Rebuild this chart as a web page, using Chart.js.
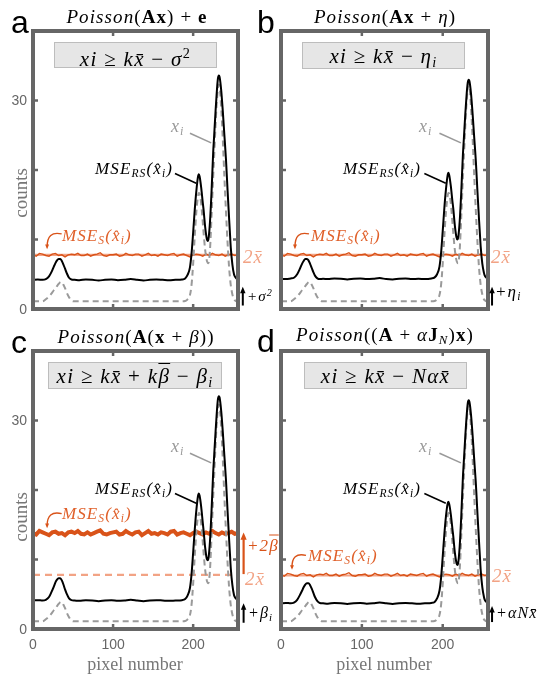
<!DOCTYPE html>
<html>
<head>
<meta charset="utf-8">
<script src="https://cdn.jsdelivr.net/npm/chart.js@4.4.1/dist/chart.umd.min.js"></script>
<style>
  body { margin: 0; background: #fff; }
  #fig { position: relative; width: 539px; height: 678px; overflow: hidden; background: #fff; }
  #fig canvas { position: absolute; left: 0; top: 0; }
  .tx { position: absolute; white-space: nowrap; line-height: 1; font-family: "Liberation Serif", serif; }
  .ltr { font-family: "Liberation Sans", Arial, sans-serif; font-size: 32px; color: #000; }
  .ttl { font-size: 19px; color: #000; letter-spacing: 1.1px; }
  .box { background: #e6e6e6; border: 1.5px solid #bdbdbd; box-sizing: border-box;
         text-align: center; font-size: 21px; letter-spacing: 1.3px; }
  .box span.in { position: relative; top: 3px; }
  .ann { font-size: 17px; font-style: italic; letter-spacing: 1.1px; }
  .axt { font-size: 18px; color: #777; }
  .ov { text-decoration: overline; text-decoration-thickness: 1px; }
  sub { font-size: 68%; vertical-align: -0.3em; }
  sup { font-size: 68%; vertical-align: 0.55em; }
</style>
</head>
<body>
<div id="fig">
  <canvas id="ca" width="539" height="678"></canvas>
  <canvas id="cb" width="539" height="678"></canvas>
  <canvas id="cc" width="539" height="678"></canvas>
  <canvas id="cd" width="539" height="678"></canvas>
</div>
<script>
const pixelPos = [0, 6, 12, 16, 20, 23, 26, 28, 30, 32,
  34, 36, 38, 40, 42, 45, 48, 52, 58, 66,
  74, 82, 90, 98, 106, 114, 122, 130, 138, 146,
  154, 162, 170, 178, 186, 190, 193, 196, 198, 200,
  202, 204, 206, 207, 208, 210, 212, 213, 215, 217,
  218, 219, 221, 223, 225, 226, 228, 229, 230, 231,
  232, 233, 235, 237, 239, 241, 243, 245, 246, 247,
  249, 251, 252, 254, 256];

// true signal x_i (grey dashed), same in all panels
const trueSignal = [1.1, 1.1, 1.1, 1.4, 1.8, 2.2, 2.7, 3.0, 3.3, 3.6,
  3.85, 3.9, 3.5, 3.0, 2.4, 1.7, 1.2, 1.1, 1.1, 1.1,
  1.1, 1.1, 1.1, 1.1, 1.1, 1.1, 1.1, 1.1, 1.1, 1.1,
  1.1, 1.1, 1.1, 1.1, 1.1, 1.15, 1.4, 2.0, 3.5, 6.5,
  10.5, 14.0, 16.2, 16.7, 16.6, 15.2, 12.5, 11.0, 8.5, 7.0,
  6.7, 6.6, 8.5, 13.5, 19.0, 21.5, 26.5, 28.8, 30.5, 31.8,
  32.3, 32.0, 29.0, 24.5, 19.0, 14.0, 9.5, 5.8, 4.5, 3.4,
  2.1, 1.4, 1.25, 1.1, 1.1];

// MSE_RS (black) for panels a-d
const mseRsA = [4.2, 4.25, 4.2, 4.3, 4.7, 5.3, 6.1, 6.6, 7.0, 7.2,
  7.2, 6.9, 6.4, 5.8, 5.2, 4.5, 4.25, 4.2, 4.15, 4.25,
  4.2, 4.1, 4.2, 4.25, 4.15, 4.2, 4.3, 4.2, 4.1, 4.2,
  4.25, 4.2, 4.15, 4.2, 4.25, 4.4, 4.9, 6.0, 8.0, 11.0,
  14.3, 17.0, 19.0, 19.4, 19.1, 17.5, 15.3, 14.3, 11.8, 10.1,
  9.8, 10.0, 12.5, 17.0, 22.5, 24.5, 28.5, 30.3, 32.0, 33.2,
  33.6, 33.4, 31.5, 28.5, 25.0, 21.5, 17.0, 12.8, 10.8, 8.8,
  6.4, 5.0, 4.7, 4.4, 4.3];

const mseRsB = [4.35, 4.3, 4.4, 4.5, 5.0, 5.7, 6.5, 6.9, 7.2, 7.2,
  7.0, 6.5, 5.9, 5.3, 4.8, 4.4, 4.3, 4.35, 4.3, 4.4,
  4.35, 4.25, 4.35, 4.4, 4.3, 4.35, 4.45, 4.3, 4.25, 4.35,
  4.4, 4.3, 4.35, 4.3, 4.4, 4.55, 5.0, 6.1, 8.1, 11.2,
  14.5, 17.2, 19.2, 19.6, 19.3, 17.7, 15.5, 14.5, 12.0, 10.3,
  10.0, 10.2, 12.6, 17.0, 22.3, 24.2, 28.2, 29.9, 31.5, 32.6,
  33.0, 32.8, 31.0, 28.0, 24.6, 21.2, 16.8, 12.7, 10.8, 8.9,
  6.5, 5.2, 4.8, 4.5, 4.4];

const mseRsC = [4.1, 4.15, 4.1, 4.2, 4.6, 5.3, 6.1, 6.7, 7.1, 7.3,
  7.3, 7.0, 6.4, 5.7, 5.1, 4.4, 4.15, 4.1, 4.05, 4.15,
  4.1, 4.0, 4.1, 4.15, 4.05, 4.1, 4.2, 4.1, 4.0, 4.1,
  4.15, 4.1, 4.05, 4.1, 4.15, 4.3, 4.8, 5.9, 7.9, 11.0,
  14.3, 17.1, 19.1, 19.5, 19.2, 17.6, 15.3, 14.2, 11.7, 10.1,
  9.9, 10.1, 12.6, 17.1, 22.5, 24.5, 28.4, 30.2, 31.9, 33.1,
  33.5, 33.3, 31.4, 28.4, 24.9, 21.4, 16.9, 12.7, 10.7, 8.7,
  6.3, 4.9, 4.6, 4.3, 4.2];

const mseRsD = [3.7, 3.75, 3.7, 3.8, 4.2, 4.8, 5.5, 6.0, 6.4, 6.6,
  6.6, 6.3, 5.8, 5.2, 4.6, 4.0, 3.75, 3.7, 3.65, 3.75,
  3.7, 3.6, 3.7, 3.75, 3.65, 3.7, 3.8, 3.7, 3.6, 3.7,
  3.75, 3.7, 3.65, 3.7, 3.75, 3.9, 4.4, 5.5, 7.4, 10.4,
  13.6, 16.2, 18.0, 18.3, 18.0, 16.5, 14.4, 13.4, 11.0, 9.5,
  9.2, 9.4, 11.9, 16.4, 21.9, 23.9, 27.9, 29.7, 31.3, 32.5,
  32.9, 32.7, 30.8, 27.8, 24.3, 20.9, 16.5, 12.4, 10.4, 8.4,
  6.0, 4.6, 4.2, 3.9, 3.8];

// pixel numbers for the noisy MSE_S traces
const noisePos = [0, 4, 8, 12, 16, 20, 24, 28, 32, 36,
  40, 44, 48, 52, 56, 60, 64, 68, 72, 76,
  80, 84, 88, 92, 96, 100, 104, 108, 112, 116,
  120, 124, 128, 132, 136, 140, 144, 148, 152, 156,
  160, 164, 168, 172, 176, 180, 184, 188, 192, 196,
  200, 204, 208, 212, 216, 220, 224, 228, 232, 236,
  240, 244, 248, 252, 256];

// MSE_S (orange), panels a, b, d
const mseSThin = [7.8, 7.6, 8.0, 7.9, 7.7, 7.6, 7.9, 8.0, 7.7, 7.8,
  7.5, 7.8, 7.9, 7.8, 8.0, 7.7, 7.7, 7.9, 7.6, 7.8,
  7.9, 8.1, 7.7, 7.6, 7.8, 7.8, 7.9, 7.6, 7.7, 8.0,
  7.8, 7.7, 7.9, 7.9, 7.6, 7.8, 8.0, 7.7, 7.8, 7.6,
  7.9, 7.8, 7.7, 7.9, 8.0, 7.6, 7.8, 7.9, 7.7, 7.5,
  7.8, 7.9, 7.8, 7.6, 7.9, 7.7, 8.0, 7.8, 7.7, 7.9,
  7.6, 7.8, 7.9, 7.7, 7.8];

// MSE_S (orange), panel c
const mseSThick = [13.8, 13.6, 14.1, 13.9, 13.7, 13.5, 13.9, 14.0, 13.7, 13.8,
  13.5, 13.9, 14.0, 13.8, 14.1, 13.7, 13.6, 13.9, 13.6, 13.8,
  14.0, 14.2, 13.7, 13.6, 13.8, 13.9, 14.0, 13.6, 13.7, 14.1,
  13.8, 13.6, 13.9, 14.0, 13.5, 13.8, 14.1, 13.7, 13.8, 13.6,
  13.9, 13.8, 13.6, 14.0, 14.1, 13.6, 13.8, 13.9, 13.7, 13.5,
  13.8, 14.0, 13.8, 13.6, 13.9, 13.7, 14.1, 13.8, 13.6, 13.9,
  13.7, 13.8, 14.0, 13.7, 13.8];

const twoXbar = [7.8, 7.8, 7.8, 7.7];
const xTickLabels = [0, 100, 200];
const yTickLabels = [0, 30];
const xTickMarks = [100, 200];
const yTickMarks = [10, 20, 30];
const xMax = 256, yMax = 40;

const ORANGE = '#d95319';
const LIGHT_ORANGE = '#f2a385';
const GREY = '#9a9a9a';
const FRAME = '#666666';

const panels = [
  { id: 'ca', area: [33, 31, 238, 309], black: mseRsA, mse: mseSThin, mseWidth: 1.4, xbar: twoXbar[0], xbarDash: [],
    yLabels: true, xLabels: false,
    xiLead: [196, 25.3, 222.5, 23.9], rsLead: [177.3, 19.5, 203.8, 18.1],
    sCurve: [35.8, 10.8, 17.5, 11.3, 17.6, 8.9], offArrow: [262, 0.5, 3.2] },
  { id: 'cb', area: [281, 31, 488, 309], black: mseRsB, mse: mseSThin, mseWidth: 1.4, xbar: twoXbar[1], xbarDash: [],
    yLabels: false, xLabels: false,
    xiLead: [196, 25.3, 222.5, 23.9], rsLead: [177.3, 19.5, 203.8, 18.1],
    sCurve: [34.6, 10.8, 17, 11.3, 17.3, 8.9], offArrow: [261, 0.5, 3.2] },
  { id: 'cc', area: [33, 351, 238, 629], black: mseRsC, mse: mseSThick, mseWidth: 4, xbar: twoXbar[2], xbarDash: [7, 5],
    yLabels: true, xLabels: true,
    xiLead: [196, 25.3, 222.5, 23.9], rsLead: [177.3, 19.5, 203.8, 18.1],
    sCurve: [35.8, 16.6, 17.5, 17.1, 17.6, 14.8], offArrow: [263, 0.9, 3.7],
    betaArrow: [263, 7.9, 13.9] },
  { id: 'cd', area: [281, 351, 488, 629], black: mseRsD, mse: mseSThin, mseWidth: 1.4, xbar: twoXbar[3], xbarDash: [],
    yLabels: false, xLabels: true,
    xiLead: [196, 25.3, 222.5, 23.9], rsLead: [177.3, 19.5, 203.8, 18.1],
    sCurve: [30.9, 10.6, 13, 11.1, 13.6, 8.8], offArrow: [261, 1.0, 3.3] }
];

function seg(ctx, x1, y1, x2, y2) {
  ctx.beginPath();
  ctx.moveTo(x1, y1);
  ctx.lineTo(x2, y2);
  ctx.stroke();
}

function head(ctx, x, y, ang, size) {
  ctx.beginPath();
  ctx.moveTo(x, y);
  ctx.lineTo(x - size * Math.cos(ang - 0.4), y - size * Math.sin(ang - 0.4));
  ctx.lineTo(x - size * Math.cos(ang + 0.4), y - size * Math.sin(ang + 0.4));
  ctx.closePath();
  ctx.fill();
}

function decorPlugin(p) {
  return {
    id: 'decor',
    afterDatasetsDraw(chart) {
      const ctx = chart.ctx;
      const a = chart.chartArea;
      const xs = chart.scales.x, ys = chart.scales.y;
      const X = v => xs.getPixelForValue(v);
      const Y = v => ys.getPixelForValue(v);
      ctx.save();

      // leader lines
      ctx.lineCap = 'butt';
      ctx.strokeStyle = GREY; ctx.lineWidth = 1.6;
      seg(ctx, X(p.xiLead[0]), Y(p.xiLead[1]), X(p.xiLead[2]), Y(p.xiLead[3]));
      ctx.strokeStyle = '#000'; ctx.lineWidth = 1.6;
      seg(ctx, X(p.rsLead[0]), Y(p.rsLead[1]), X(p.rsLead[2]), Y(p.rsLead[3]));

      // curved arrow to MSE_S
      const c = p.sCurve;
      ctx.strokeStyle = ORANGE; ctx.fillStyle = ORANGE; ctx.lineWidth = 1.4;
      ctx.beginPath();
      ctx.moveTo(X(c[0]), Y(c[1]));
      ctx.quadraticCurveTo(X(c[2]), Y(c[3]), X(c[4]), Y(c[5]));
      ctx.stroke();
      head(ctx, X(c[4]), Y(c[5]) + 2, Math.PI / 2, 5);

      // frame and inner ticks
      ctx.strokeStyle = FRAME; ctx.lineWidth = 2.5;
      xTickMarks.forEach(v => {
        seg(ctx, X(v), a.top, X(v), a.top + 5);
        seg(ctx, X(v), a.bottom, X(v), a.bottom - 5);
      });
      yTickMarks.forEach(v => {
        seg(ctx, a.left, Y(v), a.left + 5, Y(v));
        seg(ctx, a.right, Y(v), a.right - 5, Y(v));
      });
      ctx.lineWidth = 4;
      ctx.strokeRect(a.left, a.top, a.right - a.left, a.bottom - a.top);

      // tick labels
      ctx.fillStyle = '#666';
      ctx.font = '14px "Liberation Sans", Arial, sans-serif';
      if (p.yLabels) {
        ctx.textAlign = 'right'; ctx.textBaseline = 'middle';
        yTickLabels.forEach(v => ctx.fillText(String(v), a.left - 6, Y(v) + 1));
      }
      if (p.xLabels) {
        ctx.textAlign = 'center'; ctx.textBaseline = 'middle';
        xTickLabels.forEach(v => ctx.fillText(String(v), X(v), a.bottom + 16));
      }

      // offset arrows in the right margin
      const o = p.offArrow;
      ctx.strokeStyle = '#000'; ctx.fillStyle = '#000'; ctx.lineWidth = 2;
      seg(ctx, X(o[0]), Y(o[1]), X(o[0]), Y(o[2]) + 4);
      head(ctx, X(o[0]), Y(o[2]), -Math.PI / 2, 7);
      if (p.betaArrow) {
        const b = p.betaArrow;
        ctx.strokeStyle = ORANGE; ctx.fillStyle = ORANGE; ctx.lineWidth = 2.2;
        seg(ctx, X(b[0]), Y(b[1]), X(b[0]), Y(b[2]) + 5);
        head(ctx, X(b[0]), Y(b[2]), -Math.PI / 2, 8);
      }
      ctx.restore();
    }
  };
}

panels.forEach(p => {
  const [l, t, r, b] = p.area;
  new Chart(document.getElementById(p.id), {
    type: 'line',
    data: {
      datasets: [
        {
          data: pixelPos.map((px, i) => ({ x: px, y: p.black[i] })),
          borderColor: '#000', borderWidth: 2, pointRadius: 0,
          cubicInterpolationMode: 'monotone', order: 1
        },
        {
          data: pixelPos.map((px, i) => ({ x: px, y: trueSignal[i] })),
          borderColor: GREY, borderWidth: 2, borderDash: [6, 4], pointRadius: 0,
          cubicInterpolationMode: 'monotone', order: 2
        },
        {
          data: noisePos.map((px, i) => ({ x: px, y: p.mse[i] })),
          borderColor: ORANGE, borderWidth: p.mseWidth, pointRadius: 0, order: 3
        },
        {
          data: [{ x: 0, y: p.xbar }, { x: xMax, y: p.xbar }],
          borderColor: LIGHT_ORANGE, borderWidth: 2.2, borderDash: p.xbarDash, pointRadius: 0, order: 4
        }
      ]
    },
    options: {
      responsive: false,
      animation: false,
      devicePixelRatio: 1,
      events: [],
      layout: { padding: { left: l, top: t, right: 539 - r, bottom: 678 - b } },
      scales: {
        x: { type: 'linear', display: false, min: 0, max: xMax },
        y: { type: 'linear', display: false, min: 0, max: yMax }
      },
      plugins: { legend: { display: false }, tooltip: { enabled: false } }
    },
    plugins: [decorPlugin(p)]
  });
});

// text overlays
const fig = document.getElementById('fig');
function put(html, x, y, anchor, cls, style) {
  const d = document.createElement('div');
  d.className = 'tx ' + (cls || '');
  d.innerHTML = html;
  d.style.left = x + 'px';
  d.style.top = y + 'px';
  const tr = { tl: '', lm: 'translate(0,-50%)', rm: 'translate(-100%,-50%)', cm: 'translate(-50%,-50%)' }[anchor];
  d.style.transform = tr;
  if (style) Object.assign(d.style, style);
  fig.appendChild(d);
  return d;
}
function box(html, x, y, w, h) {
  const d = put('<span class="in">' + html + '</span>', x, y, 'tl', 'box');
  d.style.width = w + 'px';
  d.style.height = h + 'px';
}

const xbar = '<i>x&#772;</i>';
const xhat = '<i>x&#770;</i>';
const rsLabel = '<i>MSE</i><sub><i>RS</i></sub>(' + xhat + '<sub><i>i</i></sub>)';
const sLabel = '<i>MSE</i><sub><i>S</i></sub>(' + xhat + '<sub><i>i</i></sub>)';
const xiLabel = '<i>x</i><sub><i>i</i></sub>';
const betaBar = '<i class="ov">β</i>';

// panel letters
put('a', 11, 6, 'tl', 'ltr');
put('b', 257, 6, 'tl', 'ltr');
put('c', 11, 326, 'tl', 'ltr');
put('d', 257, 325, 'tl', 'ltr');

// titles
put('<i>Poisson</i>(<b>Ax</b>) + <b>e</b>', 137, 16, 'cm', 'ttl');
put('<i>Poisson</i>(<b>Ax</b> + <i>η</i>)', 385, 16, 'cm', 'ttl');
put('<i>Poisson</i>(<b>A</b>(<b>x</b> + <i>β</i>))', 136, 336, 'cm', 'ttl');
put('<i>Poisson</i>((<b>A</b> + <i>α</i><b>J</b><sub><i>N</i></sub>)<b>x</b>)', 385, 336, 'cm', 'ttl');

// condition boxes
box('<i>xi</i>&nbsp;≥&nbsp;<i>k</i>' + xbar + '&nbsp;−&nbsp;<i>σ</i><sup>2</sup>', 54, 42, 163, 26);
box('<i>xi</i>&nbsp;≥&nbsp;<i>k</i>' + xbar + '&nbsp;−&nbsp;<i>η</i><sub><i>i</i></sub>', 302, 42, 163, 27);
box('<i>xi</i>&nbsp;≥&nbsp;<i>k</i>' + xbar + '&nbsp;+&nbsp;<i>k</i>' + betaBar + '&nbsp;−&nbsp;<i>β</i><sub><i>i</i></sub>', 48, 362, 174, 27);
box('<i>xi</i>&nbsp;≥&nbsp;<i>k</i>' + xbar + '&nbsp;−&nbsp;<i>Nα</i>' + xbar, 304, 362, 163, 27);

// curve labels
[[0, 0], [248, 0], [0, 320], [248, 320]].forEach(([dx, dy]) => {
  put(xiLabel, 171 + dx, 127 + dy, 'lm', 'ann', { color: GREY, fontSize: '18px' });
  put(rsLabel, 173 + dx, 170 + dy, 'rm', 'ann', { color: '#000' });
});
put(sLabel, 62, 237, 'lm', 'ann', { color: '#e0602a' });
put(sLabel, 311, 237, 'lm', 'ann', { color: '#e0602a' });
put(sLabel, 62, 515, 'lm', 'ann', { color: '#e0602a' });
put(sLabel, 308, 557, 'lm', 'ann', { color: '#e0602a' });

// right-margin labels
const twoX = '2' + xbar;
put(twoX, 243, 256, 'lm', 'ann', { color: LIGHT_ORANGE, fontSize: '19px' });
put(twoX, 491, 256, 'lm', 'ann', { color: LIGHT_ORANGE, fontSize: '19px' });
put(twoX, 245, 578, 'lm', 'ann', { color: LIGHT_ORANGE, fontSize: '19px' });
put(twoX, 492, 575, 'lm', 'ann', { color: LIGHT_ORANGE, fontSize: '19px' });
put('+<i>σ</i><sup>2</sup>', 247, 296, 'lm', 'ann', { fontSize: '15px' });
put('+<i>η</i><sub><i>i</i></sub>', 495, 293, 'lm', 'ann', { fontSize: '17px' });
put('+2' + betaBar, 247, 545, 'lm', 'ann', { color: ORANGE, fontSize: '17px' });
put('+<i>β</i><sub><i>i</i></sub>', 248, 614, 'lm', 'ann', { fontSize: '16px' });
put('+<i>αN</i>' + xbar, 496, 613, 'lm', 'ann', { fontSize: '16px' });

// axis titles
put('counts', 20, 193, 'cm', 'axt', { transform: 'translate(-50%,-50%) rotate(-90deg)', fontSize: '19px' });
put('counts', 20, 517, 'cm', 'axt', { transform: 'translate(-50%,-50%) rotate(-90deg)', fontSize: '19px' });
put('pixel number', 135, 664, 'cm', 'axt');
put('pixel number', 384, 664, 'cm', 'axt');
</script>
</body>
</html>
